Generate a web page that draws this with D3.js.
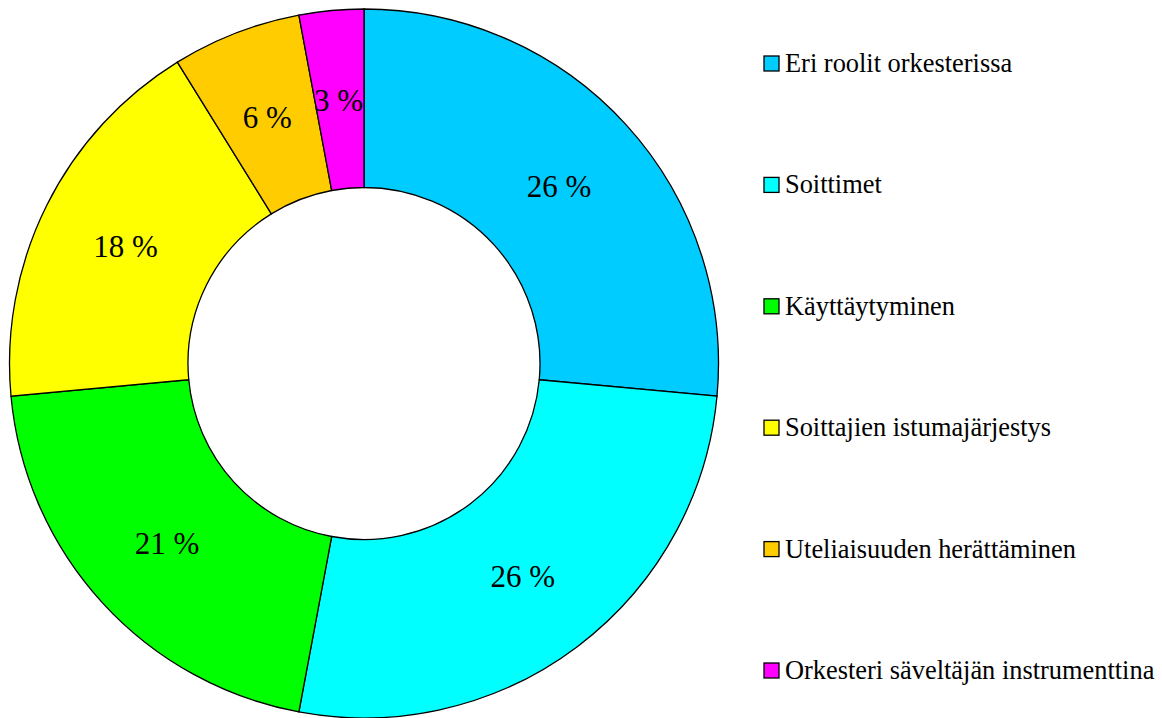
<!DOCTYPE html>
<html>
<head>
<meta charset="utf-8">
<script src="https://cdn.jsdelivr.net/npm/d3@7"></script>
</head>
<body style="margin:0">
<svg id="chart" width="1162" height="718"></svg>
<script>
const categories = [
  "Eri roolit orkesterissa",
  "Soittimet",
  "Käyttäytyminen",
  "Soittajien istumajärjestys",
  "Uteliaisuuden herättäminen",
  "Orkesteri säveltäjän instrumenttina"
];
const values = [9, 9, 7, 6, 2, 1];
const colors = ["#00CCFF", "#00FFFF", "#00FF00", "#FFFF00", "#FFCC00", "#FF00FF"];

const svg = d3.select("#chart");
const cx = 364, cy = 363.5, rOuter = 354.5, rInner = 176;

const total = d3.sum(values);
const pie = d3.pie().sort(null).value(d => d)(values);
const arc = d3.arc().innerRadius(rInner).outerRadius(rOuter);
const labelArc = d3.arc().innerRadius((rInner + rOuter) / 2).outerRadius((rInner + rOuter) / 2);

const g = svg.append("g").attr("transform", `translate(${cx},${cy})`);
g.selectAll("path.slice").data(pie).join("path")
  .attr("class", "slice")
  .attr("d", arc)
  .attr("fill", (d, i) => colors[i])
  .attr("stroke", "#000")
  .attr("stroke-width", 1.3);

g.selectAll("text.lbl").data(pie).join("text")
  .attr("class", "lbl")
  .attr("x", d => labelArc.centroid(d)[0] - 1)
  .attr("y", d => labelArc.centroid(d)[1] + 12)
  .attr("text-anchor", "middle")
  .attr("font-family", "Liberation Serif")
  .attr("font-size", 31)
  .attr("fill", "#000")
  .text(d => Math.round(d.value / total * 100) + " %");

// legend
const legendY = d3.scalePoint().domain(categories).range([64, 671]);
const items = svg.append("g").selectAll("g.item").data(categories).join("g")
  .attr("class", "item")
  .attr("transform", d => `translate(764,${legendY(d)})`);
items.append("rect")
  .attr("x", 0).attr("y", -8).attr("width", 15).attr("height", 15)
  .attr("fill", (d, i) => colors[i])
  .attr("stroke", "#000").attr("stroke-width", 1.3);
items.append("text")
  .attr("x", 21).attr("y", 8)
  .attr("font-family", "Liberation Serif")
  .attr("font-size", 26.4)
  .attr("fill", "#000")
  .text(d => d);
</script>
</body>
</html>
